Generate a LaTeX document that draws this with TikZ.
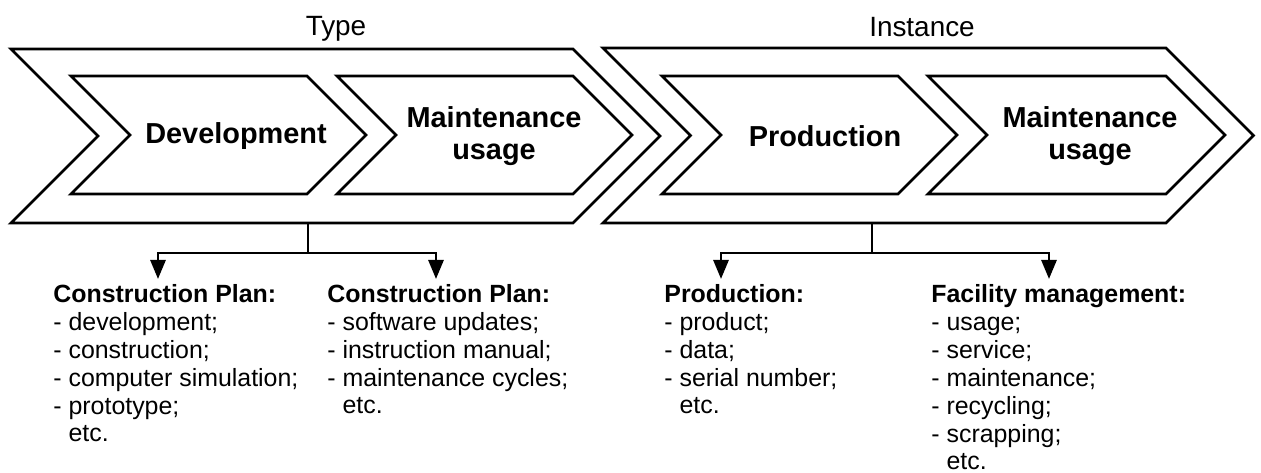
\documentclass[tikz,border=0pt]{standalone}
\usepackage{fontspec}
\setmainfont{Liberation Sans}
\usetikzlibrary{arrows.meta,calc}
% chevron: left x, right x, top y, bottom y
\newcommand{\chevron}[4]{%
\pgfmathsetmacro{\chd}{(#4-#3)/2}%
\pgfmathsetmacro{\chm}{(#4+#3)/2}%
\draw (#1,#3) -- (#2,#3) -- (#2+\chd,\chm) -- (#2,#4) -- (#1,#4)
      -- (#1+\chd,\chm) -- cycle;}

\begin{document}
\begin{tikzpicture}[x=1bp,y=-1bp,line width=2.8bp,
  >={Triangle[length=19bp,width=15bp]},
  stage/.style={font=\fontsize{28}{32}\selectfont,inner sep=0pt,anchor=base},
  phase/.style={font=\fontsize{29}{32}\selectfont\bfseries,align=center,inner sep=0pt},
  plan/.style={font=\fontsize{25}{28}\selectfont,align=left,inner sep=0pt,anchor=base west}]
\useasboundingbox (0,0) rectangle (1261,473);
% outer and inner chevrons
\chevron{11}{573}{49}{223}
\chevron{603}{1166}{48}{223}
\chevron{71}{307}{76}{194}
\chevron{337}{573}{76}{194}
\chevron{662}{898}{76}{194}
\chevron{928}{1166}{76}{194}

\node[stage] (type) at (336,36) {Type};
\node[stage] (inst) at (922,37) {Instance};
\node[phase] (dev) at (236,136) {Development};
\node[phase] (mtype) at (494,136) {Maintenance\\usage};
\node[phase] (prod) at (825,136) {Production};
\node[phase] (minst) at (1090,136) {Maintenance\\usage};

% lists, placed by the baseline of their last line
\node[plan] (cpdev) at (52,442) {\textbf{Construction Plan:}\\- development;\\- construction;\\- computer simulation;\\- prototype;\\\phantom{- }etc.};
\node[plan] (cpuse) at (326,414) {\textbf{Construction Plan:}\\- software updates;\\- instruction manual;\\- maintenance cycles;\\\phantom{- }etc.};
\node[plan] (prodl) at (663,414) {\textbf{Production:}\\- product;\\- data;\\- serial number;\\\phantom{- }etc.};
\node[plan] (fm) at (930,470) {\textbf{Facility management:}\\- usage;\\- service;\\- maintenance;\\- recycling;\\- scrapping;\\\phantom{- }etc.};

% connectors
\coordinate (tb) at (308,223);
\coordinate (ib) at (872,223);
\coordinate (ta) at (158,279);
\coordinate (tc) at (436,279);
\coordinate (ia) at (721,279);
\coordinate (ic) at (1049,279);
\draw[->] (tb) -- ++(0,30) -| (ta);
\draw[->] (tb) -- ++(0,30) -| (tc);
\draw[->] (ib) -- ++(0,30) -| (ia);
\draw[->] (ib) -- ++(0,30) -| (ic);
\end{tikzpicture}
\end{document}
